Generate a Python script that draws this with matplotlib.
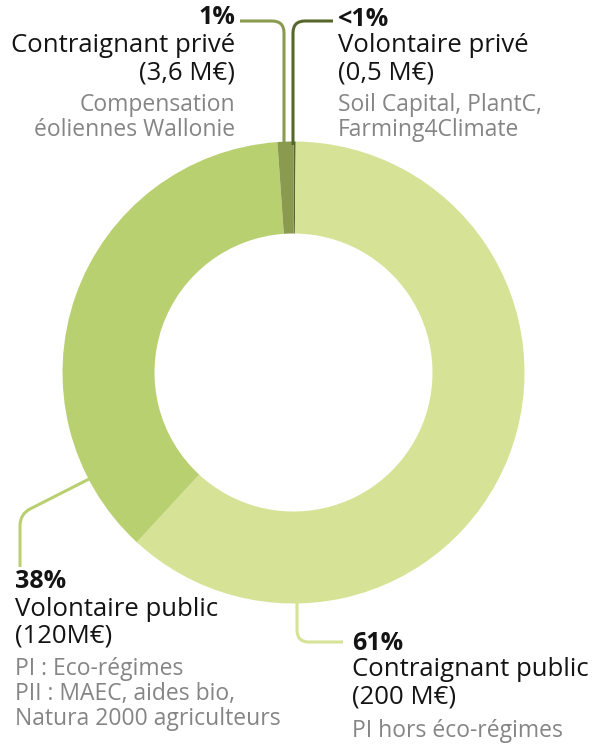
import matplotlib.pyplot as plt
from matplotlib.path import Path
from matplotlib.patches import PathPatch

plt.rcParams['font.family'] = ['Open Sans', 'DejaVu Sans']

# données (M€), dans l'ordre horaire depuis le haut
categories = ['Volontaire privé', 'Contraignant public', 'Volontaire public', 'Contraignant privé']
montants = [0.5, 200, 120, 3.6]
pourcentages = ['<1%', '61%', '38%', '1%']
montant_labels = ['(0,5 M€)', '(200 M€)', '(120M€)', '(3,6 M€)']
details = [['Soil Capital, PlantC,', 'Farming4Climate'],
           ['PI hors éco-régimes'],
           ['PI : Eco-régimes', 'PII : MAEC, aides bio,', 'Natura 2000 agriculteurs'],
           ['Compensation', 'éoliennes Wallonie']]
couleurs = ['#56672c', '#d6e396', '#b9d071', '#8a9a4f']

W, H = 595, 744
fig = plt.figure(figsize=(W / 100, H / 100), dpi=100)
ax = fig.add_axes([0, 0, 1, 1])

def Y(y):
    return H - y

cx, cy, R = 293.5, 372.5, 231
ax.pie(montants, colors=couleurs, startangle=90, counterclock=False,
       center=(cx, Y(cy)), radius=R,
       wedgeprops=dict(width=92, linewidth=0))
ax.set_xlim(0, W)
ax.set_ylim(0, H)
ax.set_aspect('equal')
ax.axis('off')

def leader(pts, color):
    # pts : liste de (x, y, code) en pixels
    verts = [(x, Y(y)) for x, y, _ in pts]
    codes = [c for _, _, c in pts]
    ax.add_patch(PathPatch(Path(verts, codes), fill=False, edgecolor=color, lw=2.2))

M, L, C = Path.MOVETO, Path.LINETO, Path.CURVE3
leader([(284, 145, M), (284, 33, L), (284, 21, C), (272, 21, C), (240, 21, L)], '#8a9a4f')
leader([(293, 145, M), (293, 33, L), (293, 21, C), (305, 21, C), (333, 21, L)], '#56672c')
leader([(93, 477, M), (30, 509, L), (20, 514, C), (20, 526, C), (20, 567, L)], '#b9d071')
leader([(297, 600, M), (297, 630, L), (297, 642, C), (309, 642, C), (343, 642, L)], '#d6e396')

noir, gris = '#141414', '#858585'
fs_titre, fs_detail = 18.5, 16.5

def bloc(x, ys, i, ha):
    ax.text(x, Y(ys[0]), pourcentages[i], ha=ha, va='center', fontsize=fs_titre - 0.5,
            fontweight='bold', color=noir)
    ax.text(x, Y(ys[1]), categories[i], ha=ha, va='center', fontsize=fs_titre, color=noir)
    ax.text(x, Y(ys[2]), montant_labels[i], ha=ha, va='center', fontsize=fs_titre, color=noir)
    for k, ligne in enumerate(details[i]):
        ax.text(x, Y(ys[3] + 25 * k), ligne, ha=ha, va='center', fontsize=fs_detail, color=gris)

bloc(338, [19, 46, 73, 105], 0, 'left')
bloc(352, [643, 670, 697, 731], 1, 'left')
bloc(15, [581, 609, 636, 669], 2, 'left')
bloc(235, [18, 46, 73, 105], 3, 'right')

fig.savefig('out.png', dpi=100)
